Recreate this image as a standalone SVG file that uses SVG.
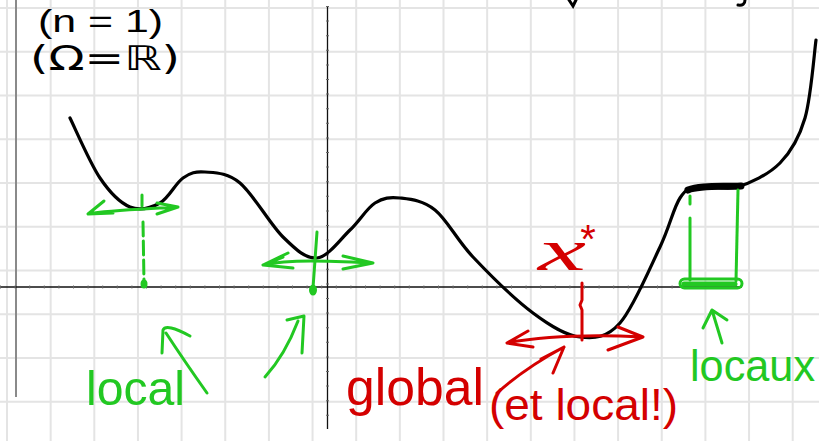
<svg xmlns="http://www.w3.org/2000/svg" width="819" height="441" viewBox="0 0 819 441">
<defs>
<style>
.grid{stroke:#e4e4e4;stroke-width:2;fill:none}
.axis{stroke:#111;stroke-width:1.3;fill:none}
.ticks{stroke:#666;stroke-width:3;stroke-dasharray:1 13.6;fill:none}
.curve{stroke:#000;stroke-width:3.2;fill:none;stroke-linecap:round;stroke-linejoin:round}
.g{stroke:#22c822;stroke-width:3;fill:none;stroke-linecap:round;stroke-linejoin:round}
.r{stroke:#d40000;stroke-width:3;fill:none;stroke-linecap:round;stroke-linejoin:round}
.tk{font-family:"Liberation Sans",Arial,sans-serif;fill:#000}
.tg{font-family:"Liberation Sans",Arial,sans-serif;fill:#22c822}
.tr{font-family:"Liberation Sans",Arial,sans-serif;fill:#d40000}
</style>
</defs>
<rect width="819" height="441" fill="#fff"/>
<g id="grid" class="grid">
<path d="M7,0V441 M50.65,0V441 M94.3,0V441 M137.95,0V441 M181.6,0V441 M225.25,0V441 M268.9,0V441 M312.55,0V441 M356.2,0V441 M399.85,0V441 M443.5,0V441 M487.15,0V441 M530.8,0V441 M574.45,0V441 M618.1,0V441 M661.75,0V441 M705.4,0V441 M749.05,0V441 M792.7,0V441"/>
<path d="M0,8H819 M0,51.75H819 M0,95.5H819 M0,139.25H819 M0,183H819 M0,226.75H819 M0,270.5H819 M0,314.25H819 M0,358H819 M0,401.75H819"/>
</g>
<line x1="16" y1="0" x2="16" y2="397" stroke="#8a8a8a" stroke-width="2"/>
<g id="axes">
<line class="axis" x1="0" y1="287" x2="742" y2="287"/>
<line class="ticks" x1="0" y1="287" x2="680" y2="287"/>
<line class="axis" x1="327.5" y1="6" x2="327.5" y2="429"/>
<line class="ticks" x1="327.5" y1="6" x2="327.5" y2="429"/>
</g>
<g id="top-fragments">
<path d="M569,0 L573,6 L576,0" stroke="#000" stroke-width="3" fill="none" stroke-linecap="round"/>
<path d="M745,0 Q745,6 738,5" stroke="#000" stroke-width="3" fill="none" stroke-linecap="round"/>
</g>
<g id="labels-top">
<text class="tk" x="38" y="32" font-size="32" textLength="125" lengthAdjust="spacingAndGlyphs">(n = 1)</text>
<text class="tk" x="30" y="70" font-size="34" textLength="150" lengthAdjust="spacingAndGlyphs" style="font-family:'DejaVu Sans','Liberation Sans',sans-serif">(Ω=ℝ)</text>
</g>
<g id="curve">
<path class="curve" d="M70,118 C75,128 90,163.2 100,178 C110,192.8 120,202.8 130,207 C140,211.2 151.2,207.8 160,203 C168.8,198.2 175.5,183.2 183,178 C190.5,172.8 195.5,171.2 205,172 C214.5,172.8 227,172.2 240,183 C253,193.8 270.2,224.5 283,237 C295.8,249.5 305.8,259.2 317,258 C328.2,256.8 340.3,239.2 350,230 C359.7,220.8 366.7,208.3 375,203 C383.3,197.7 390,196.8 400,198 C410,199.2 422.8,200.2 435,210 C447.2,219.8 456.7,239.8 473,257 C489.3,274.2 515.2,299.7 533,313 C550.8,326.3 565.5,335.3 580,337 C594.5,338.7 606.7,338 620,323 C633.3,308 650,267.8 660,247 C670,226.2 673.3,208.2 680,198 C686.7,187.8 690.5,187.8 700,186 C709.5,184.2 723.7,190.8 737,187 C750.3,183.2 768.7,174.5 780,163 C791.3,151.5 799,138.5 805,118 C811,97.5 814.2,53 816,40"/>
<path d="M688,190 C700,185 722,187 741,186" stroke="#000" stroke-width="7" fill="none" stroke-linecap="round"/>
</g>
<g id="min-left">
<path class="g" d="M104,201 L88,214 L113,213 M88,214 C110,210 150,209 178,207 M157,203 L178,207 L157,214"/>
<path class="g" d="M142,195 L142,206"/>
<path class="g" d="M143,222 L144,282" stroke-dasharray="14 5"/>
<ellipse cx="144" cy="284" rx="3.5" ry="4.5" fill="#22c822"/>
</g>
<g id="min-middle">
<path class="g" d="M288,253 L263,265 L293,268 M283,257 L266,264 M263,265 C290,259 330,261 373,263 M343,256 L373,263 L343,269"/>
<path class="g" d="M317,232 L313,288"/>
<ellipse cx="313" cy="290" rx="4" ry="5.5" fill="#22c822"/>
</g>
<g id="plateau">
<path class="g" d="M690,196 L690,204 M690,218 L690,280" stroke-width="2"/>
<path class="g" d="M738,190 L736,281" stroke-width="2"/>
<rect x="680" y="279" width="62" height="9" rx="4.5" class="g"/>
<path d="M684,284 L735,284" stroke="#22c822" stroke-width="5" stroke-linecap="round"/>
</g>
<g id="global-min">
<path class="r" d="M582,283 L582,300 L580,305 L582,310 L582,340"/>
<path class="r" d="M528,331 L507,343 L533,347 M507,343 Q560,333 643,337 M618,327 L643,337 L608,350"/>
<text class="tr" x="538" y="270" font-size="60" font-style="italic" textLength="48" lengthAdjust="spacingAndGlyphs" style="font-family:'Liberation Serif','Times New Roman',serif">x</text>
<text class="tr" x="588" y="253" font-size="40" text-anchor="middle">*</text>
</g>
<g id="label-local">
<text class="tg" x="86" y="405" font-size="48" textLength="99" lengthAdjust="spacingAndGlyphs">local</text>
<path class="g" d="M207,393 Q185,362 166,333 M162,353 L163,330 Q166,323 190,336"/>
<path class="g" d="M265,377 Q285,355 298,321 M287,320 L304,316 L302,353"/>
</g>
<g id="label-global">
<text class="tr" x="346" y="405" font-size="52" textLength="138" lengthAdjust="spacingAndGlyphs">global</text>
<text class="tr" x="489" y="420" font-size="44" textLength="189" lengthAdjust="spacingAndGlyphs">(et local!)</text>
<path class="r" d="M497,393 Q525,368 564,347 M541,359 L564,347 L553,373"/>
</g>
<g id="label-locaux">
<text class="tg" x="690" y="381" font-size="44" textLength="125" lengthAdjust="spacingAndGlyphs">locaux</text>
<path class="g" d="M722,343 L712,310 M703,328 L712,310 L727,320"/>
</g>
</svg>
